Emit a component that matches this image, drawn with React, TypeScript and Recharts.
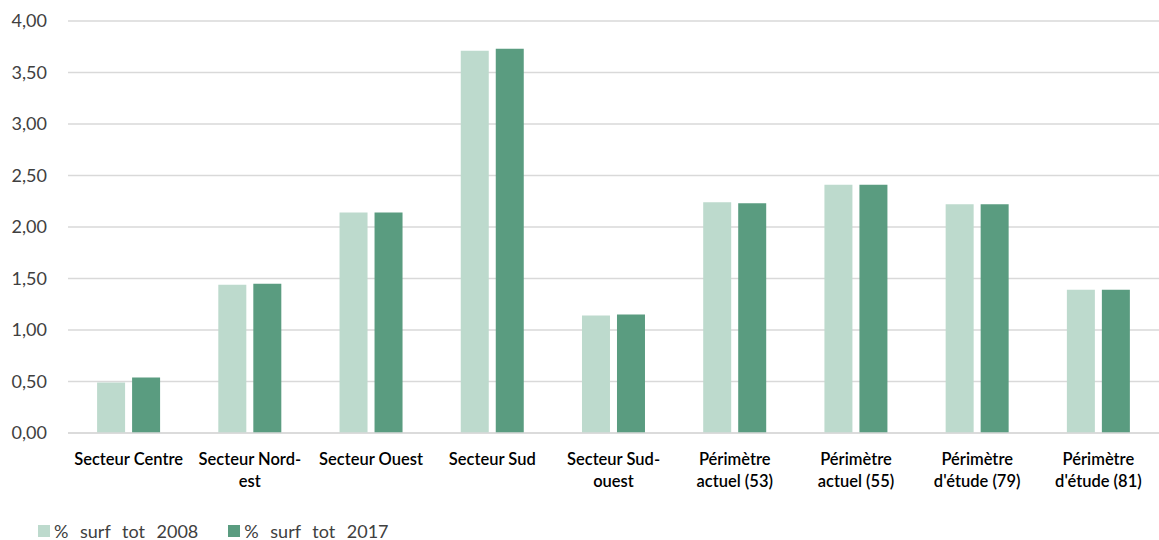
import React from 'react';
import { BarChart, Bar, XAxis, YAxis, CartesianGrid, Legend } from 'recharts';

// catégories (le \n marque le retour à la ligne de l'étiquette)
const categories = [
    'Secteur Centre',
    'Secteur Nord-\nest',
    'Secteur Ouest',
    'Secteur Sud',
    'Secteur Sud-\nouest',
    'Périmètre\nactuel (53)',
    'Périmètre\nactuel (55)',
    "Périmètre\nd'étude (79)",
    "Périmètre\nd'étude (81)",
];
const surf2008 = [0.49, 1.44, 2.14, 3.71, 1.14, 2.24, 2.41, 2.22, 1.39];
const surf2017 = [0.54, 1.45, 2.14, 3.73, 1.15, 2.23, 2.41, 2.22, 1.39];
const yTicks = [0, 0.5, 1, 1.5, 2, 2.5, 3, 3.5, 4];

const LIGHT = '#bddacd';
const DARK = '#5a9c80';
const FONT = 'Lato, "Open Sans", sans-serif';

const data = categories.map((c, i) => ({
    name: c,
    s2008: surf2008[i],
    s2017: surf2017[i],
}));

const CategoryTick = (props: any) => {
    const { x, y, payload } = props;
    const lines = String(payload.value).split('\n');
    return (
        <g transform={`translate(${x},${y})`}>
            {lines.map((l: string, i: number) => (
                <text
                    key={i}
                    x={0}
                    y={i * 22}
                    dy={24}
                    textAnchor="middle"
                    fill="#000"
                    fontSize={16.5}
                    fontWeight={600}
                    fontFamily={FONT}
                >
                    {l}
                </text>
            ))}
        </g>
    );
};

const LegendContent = () => (
    <div style={{ display: 'flex', fontFamily: FONT, fontSize: 18, color: '#404040', wordSpacing: 7 }}>
        <span style={{ display: 'flex', alignItems: 'center', marginRight: 30 }}>
            <span style={{ width: 12, height: 12, background: LIGHT, marginRight: 4, display: 'inline-block' }} />
            % surf tot 2008
        </span>
        <span style={{ display: 'flex', alignItems: 'center' }}>
            <span style={{ width: 12, height: 12, background: DARK, marginRight: 4, display: 'inline-block' }} />
            % surf tot 2017
        </span>
    </div>
);

export default function App() {
    return (
        <div style={{ position: 'absolute', left: 0, top: 0, width: 1159, height: 540, background: '#fff' }}>
            <BarChart
                width={1159}
                height={540}
                data={data}
                margin={{ top: 21, right: 0, left: 0, bottom: 47 }}
                barCategoryGap="24%"
                barGap={7}
            >
                <CartesianGrid vertical={false} stroke="#d9d9d9" strokeWidth={1.5} />
                <XAxis
                    dataKey="name"
                    axisLine={{ stroke: '#d9d9d9', strokeWidth: 1.5 }}
                    tickLine={false}
                    interval={0}
                    height={38}
                    tick={<CategoryTick />}
                />
                <YAxis
                    width={68}
                    domain={[0, 4]}
                    ticks={yTicks}
                    axisLine={false}
                    tickLine={false}
                    tickMargin={15}
                    tick={{ fill: '#404040', fontSize: 18, fontFamily: FONT }}
                    tickFormatter={(v: number) => v.toFixed(2).replace('.', ',')}
                />
                <Legend
                    content={<LegendContent />}
                    wrapperStyle={{ position: 'absolute', left: 38, top: 520, width: 'auto' }}
                />
                <Bar dataKey="s2008" name="% surf tot 2008" fill={LIGHT} isAnimationActive={false} />
                <Bar dataKey="s2017" name="% surf tot 2017" fill={DARK} isAnimationActive={false} />
            </BarChart>
        </div>
    );
}
